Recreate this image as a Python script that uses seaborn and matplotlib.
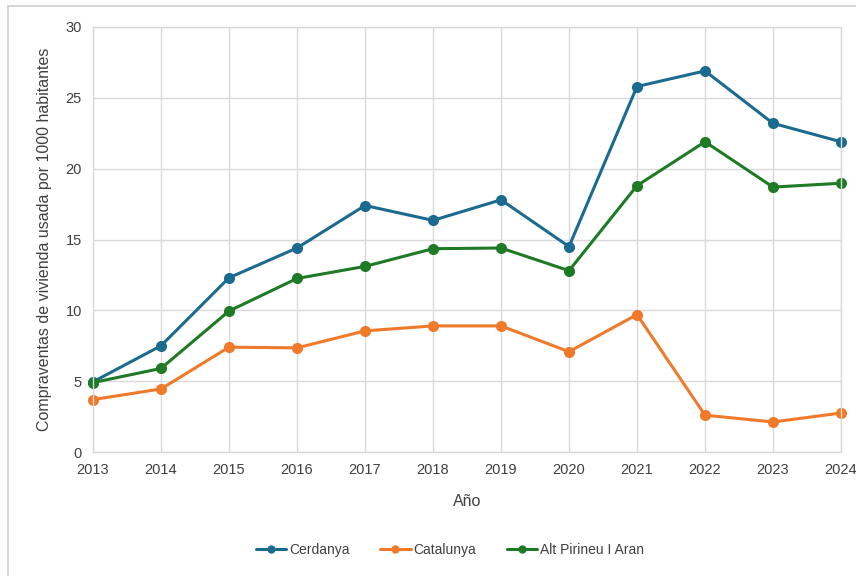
import numpy as np
import pandas as pd
import matplotlib
matplotlib.use("Agg")
import matplotlib.pyplot as plt
import seaborn as sns
from matplotlib.patches import Rectangle

years = [2013, 2014, 2015, 2016, 2017, 2018, 2019, 2020, 2021, 2022, 2023, 2024]
cerdanya = [4.95, 7.5, 12.3, 14.4, 17.4, 16.35, 17.8, 14.5, 25.8, 26.9, 23.2, 21.9]
catalunya = [3.7, 4.45, 7.4, 7.35, 8.55, 8.9, 8.9, 7.08, 9.7, 2.6, 2.12, 2.75]
alt_pirineu = [4.9, 5.9, 9.95, 12.25, 13.1, 14.35, 14.4, 12.8, 18.8, 21.9, 18.7, 18.97]
series_names = ["Cerdanya", "Catalunya", "Alt Pirineu I Aran"]
colors = ["#1B6A8F", "#F07A2A", "#1E7A24"]

df = pd.concat([
    pd.DataFrame({"Año": years, "valor": cerdanya, "serie": series_names[0]}),
    pd.DataFrame({"Año": years, "valor": catalunya, "serie": series_names[1]}),
    pd.DataFrame({"Año": years, "valor": alt_pirineu, "serie": series_names[2]}),
])

sns.set_style("white")
plt.rcParams['font.family'] = ['Liberation Sans', 'DejaVu Sans']

fig = plt.figure(figsize=(8.56, 5.76), dpi=100)
ax = fig.add_axes([93/856, 1-452/576, (841-93)/856, (452-27)/576])

fig.patches.append(Rectangle((8/856, -0.05), 1.1, 0.05 + 1 - 6/576, transform=fig.transFigure,
                             fill=False, edgecolor="#d0d0d0", linewidth=1.2, zorder=0))

sns.lineplot(data=df, x="Año", y="valor", hue="serie", palette=colors,
             marker="o", markersize=8, markeredgewidth=0, linewidth=2.2, ax=ax,
             legend=True)
for ln in ax.lines:
    ln.set_clip_on(False)

ax.set_xlim(2013, 2024)
ax.set_ylim(0, 30)
ax.set_xticks(years)
ax.set_xticklabels([str(y) for y in years])
ax.set_yticks(range(0, 31, 5))
ax.grid(True, color="#d9d9d9", linewidth=1)
ax.set_axisbelow(True)
for s in ax.spines.values():
    s.set_color("#d9d9d9")
    s.set_linewidth(1)
ax.tick_params(axis="both", length=0, labelsize=10.5, labelcolor="#404040", pad=8)
ax.set_xlabel("Año", fontsize=11.5, color="#404040", labelpad=12)
ax.set_ylabel("Compraventas de vivienda usada por 1000 habitantes", fontsize=11.5, color="#404040", labelpad=10)

handles, labels = ax.get_legend_handles_labels()
for h in handles:
    h.set_markersize(6)
ax.legend(handles, labels, loc="center", bbox_to_anchor=(450/856, 1-550/576),
          bbox_transform=fig.transFigure, ncol=3, frameon=False, fontsize=10,
          labelcolor="#404040", handlelength=2.2, columnspacing=2.2, handletextpad=0.2)

fig.savefig("out.png", dpi=100, facecolor="white")
